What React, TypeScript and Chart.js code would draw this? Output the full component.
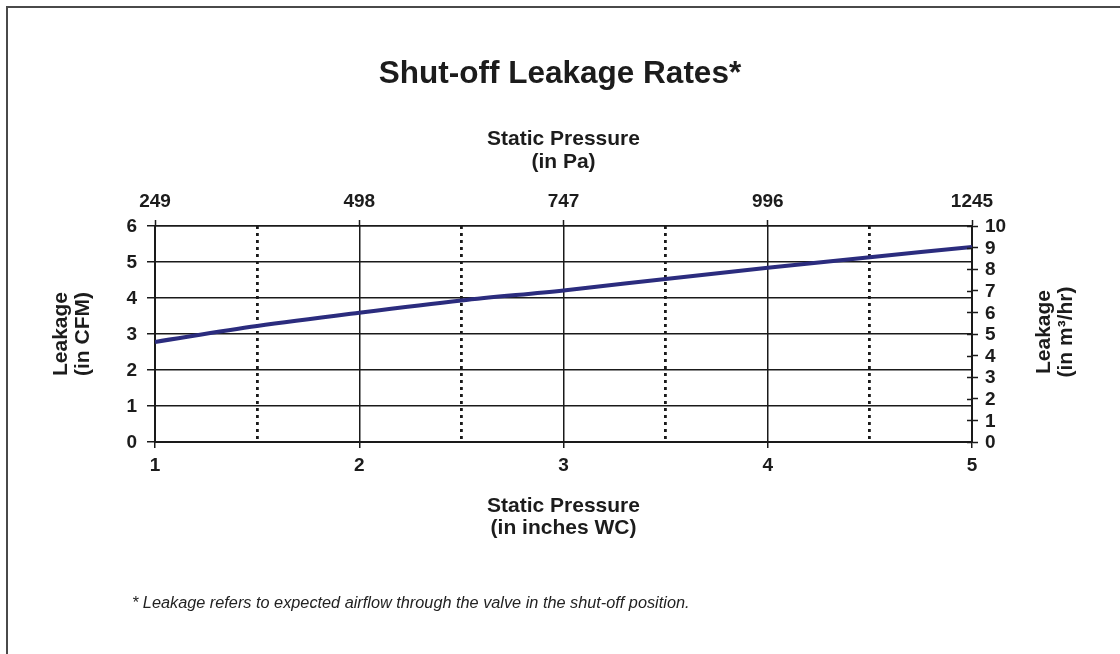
import React, { useEffect, useRef } from 'react';
import { Chart, registerables } from 'chart.js';

Chart.register(...registerables);

// ---- data ----
const pressureInchesWC = [1, 1.5, 2, 2.5, 3, 3.5, 4, 4.5, 5];
const leakageCFM = [2.78, 3.22, 3.59, 3.93, 4.21, 4.53, 4.84, 5.13, 5.42];

const bottomTicksWC = [1, 2, 3, 4, 5];
const dottedGridWC = [1.5, 2.5, 3.5, 4.5];
const topTicksPa = [249, 498, 747, 996, 1245];
const leftTicksCFM = [0, 1, 2, 3, 4, 5, 6];
const rightTicksM3hr = [0, 1, 2, 3, 4, 5, 6, 7, 8, 9, 10];

const chartTitle = 'Shut-off Leakage Rates*';
const topAxisTitle = ['Static Pressure', '(in Pa)'];
const bottomAxisTitle = ['Static Pressure', '(in inches WC)'];
const leftAxisTitle = ['Leakage', '(in CFM)'];
const rightAxisTitle = ['Leakage', '(in m\u00B3/hr)'];
const footnote = '* Leakage refers to expected airflow through the valve in the shut-off position.';

const FONT = "'Liberation Sans', Arial, Helvetica, sans-serif";
const INK = '#1c1c1c';
const GRID = '#1a1a1a';

const extrasPlugin = {
  id: 'extras',
  beforeDraw(chart: any) {
    const ctx = chart.ctx;
    ctx.save();
    ctx.fillStyle = '#ffffff';
    ctx.fillRect(0, 0, chart.width, chart.height);
    ctx.strokeStyle = '#4a4a4a';
    ctx.lineWidth = 2;
    ctx.strokeRect(7, 7, chart.width + 100, chart.height + 100);
    ctx.restore();
  },
  afterDraw(chart: any) {
    const ctx = chart.ctx;
    const y2 = chart.scales.y2;
    ctx.save();
    // inner halves of the right-axis tick marks
    ctx.strokeStyle = GRID;
    ctx.lineWidth = 1.5;
    rightTicksM3hr.forEach((v) => {
      const py = Math.round(y2.getPixelForValue(v)) + 0.5;
      ctx.beginPath();
      ctx.moveTo(y2.left - 5, py);
      ctx.lineTo(y2.left, py);
      ctx.stroke();
    });
    // right axis title, reading bottom-to-top
    ctx.fillStyle = INK;
    ctx.font = `bold 21px ${FONT}`;
    ctx.textAlign = 'center';
    ctx.textBaseline = 'middle';
    const cy = (y2.top + y2.bottom) / 2 - 2;
    ctx.translate(y2.left + 72, cy);
    ctx.rotate(-Math.PI / 2);
    rightAxisTitle.forEach((line, i) => {
      ctx.fillText(line, 0, i * 22);
    });
    ctx.restore();
    // footnote
    ctx.save();
    ctx.fillStyle = '#222';
    ctx.font = `italic 16.3px ${FONT}`;
    ctx.textAlign = 'left';
    ctx.textBaseline = 'alphabetic';
    ctx.fillText(footnote, 132, 608);
    ctx.restore();
  },
};

export default function App() {
  const ref = useRef<HTMLCanvasElement>(null);

  useEffect(() => {
    document.body.style.margin = '0';
    const canvas = ref.current;
    if (!canvas) return;
    const isDotted = (c: any) => !!(c && c.tick && dottedGridWC.includes(c.tick.value));

    const chart = new Chart(canvas, {
      type: 'line',
      data: {
        datasets: [
          {
            label: 'Leakage',
            data: pressureInchesWC.map((x, i) => ({ x, y: leakageCFM[i] })),
            borderColor: '#2b2c7e',
            borderWidth: 4,
            pointRadius: 0,
            cubicInterpolationMode: 'monotone',
            xAxisID: 'x',
            yAxisID: 'y',
          },
        ],
      },
      plugins: [extrasPlugin],
      options: {
        animation: false,
        responsive: false,
        layout: { padding: { left: 0, right: 0, top: 0, bottom: 112 } },
        plugins: {
          legend: { display: false },
          tooltip: { enabled: false },
          title: {
            display: true,
            text: chartTitle,
            color: INK,
            font: { family: FONT, size: 31.5, weight: 'bold', lineHeight: 1.2 },
            padding: { top: 55, bottom: 10 },
          },
        },
        scales: {
          x: {
            type: 'linear',
            position: 'bottom',
            min: 1,
            max: 5,
            afterBuildTicks: (s: any) => {
              s.ticks = [...bottomTicksWC, ...dottedGridWC]
                .sort((a, b) => a - b)
                .map((v) => ({ value: v }));
            },
            afterFit: (s: any) => {
              s.height = 100;
            },
            ticks: {
              color: INK,
              font: { family: FONT, size: 19, weight: 'bold' },
              padding: 6,
              maxRotation: 0,
              autoSkip: false,
              callback: (v: any) => (bottomTicksWC.includes(Number(v)) ? String(v) : ''),
            },
            grid: {
              color: GRID,
              lineWidth: (c: any) => (isDotted(c) ? 2.8 : 1.5),
              tickLength: 6,
              tickWidth: 1.5,
              tickColor: (c: any) => (isDotted(c) ? 'rgba(0,0,0,0)' : GRID),
            },
            border: {
              color: GRID,
              width: 2,
              dash: (c: any) => (isDotted(c) ? [3, 4] : []),
            },
            title: {
              display: true,
              text: bottomAxisTitle,
              color: INK,
              font: { family: FONT, size: 21, weight: 'bold', lineHeight: 1.05 },
              padding: { top: 0, bottom: 3 },
            },
          },
          x2: {
            type: 'linear',
            position: 'top',
            min: topTicksPa[0],
            max: topTicksPa[topTicksPa.length - 1],
            afterBuildTicks: (s: any) => {
              s.ticks = topTicksPa.map((v) => ({ value: v }));
            },
            afterFit: (s: any) => {
              s.height = 226 - 102.8;
            },
            ticks: {
              color: INK,
              font: { family: FONT, size: 19, weight: 'bold' },
              padding: 7,
              maxRotation: 0,
              autoSkip: false,
              callback: (v: any) => String(v),
            },
            grid: {
              drawOnChartArea: false,
              tickLength: 6,
              tickWidth: 1.5,
              tickColor: GRID,
              color: GRID,
            },
            border: { color: GRID, width: 1.5 },
            title: {
              display: true,
              text: topAxisTitle,
              color: INK,
              font: { family: FONT, size: 21, weight: 'bold', lineHeight: 1.1 },
              padding: { top: 25, bottom: 0 },
            },
          },
          y: {
            type: 'linear',
            position: 'left',
            min: 0,
            max: 6,
            afterBuildTicks: (s: any) => {
              s.ticks = leftTicksCFM.map((v) => ({ value: v }));
            },
            afterFit: (s: any) => {
              s.width = 155;
            },
            ticks: {
              color: INK,
              font: { family: FONT, size: 19, weight: 'bold' },
              padding: 10,
              labelOffset: 1,
              autoSkip: false,
              callback: (v: any) => String(v),
            },
            grid: {
              color: GRID,
              lineWidth: 1.5,
              tickLength: 8,
              tickWidth: 1.5,
              tickColor: GRID,
            },
            border: { color: GRID, width: 2 },
            title: {
              display: true,
              text: leftAxisTitle,
              color: INK,
              font: { family: FONT, size: 21, weight: 'bold', lineHeight: 1.05 },
              padding: { top: 50, bottom: 0 },
            },
          },
          y2: {
            type: 'linear',
            position: 'right',
            min: 0,
            max: 10,
            afterBuildTicks: (s: any) => {
              s.ticks = rightTicksM3hr.map((v) => ({ value: v }));
            },
            afterFit: (s: any) => {
              s.width = 1120 - 972;
            },
            ticks: {
              color: INK,
              font: { family: FONT, size: 19, weight: 'bold' },
              padding: 7,
              labelOffset: 1,
              autoSkip: false,
              callback: (v: any) => String(v),
            },
            grid: {
              drawOnChartArea: false,
              tickLength: 6,
              tickWidth: 1.5,
              tickColor: GRID,
            },
            border: { color: GRID, width: 2 },
          },
        },
      },
    } as any);

    return () => chart.destroy();
  }, []);

  return (
    <div style={{ width: 1120, height: 654 }}>
      <canvas ref={ref} width={1120} height={654} style={{ display: 'block' }} />
    </div>
  );
}
